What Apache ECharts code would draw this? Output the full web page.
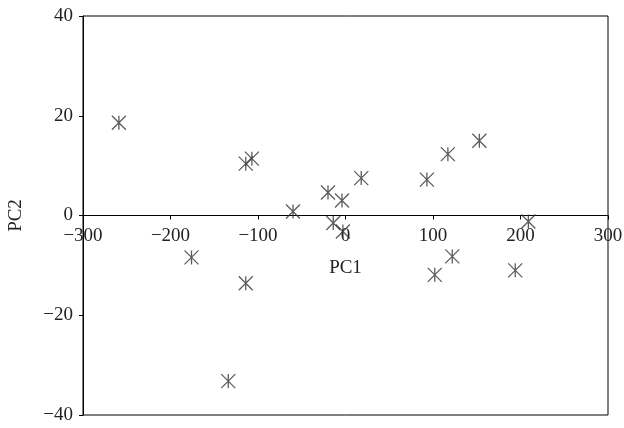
<!DOCTYPE html>
<html><head><meta charset="utf-8">
<script src="https://cdn.jsdelivr.net/npm/echarts@6/dist/echarts.min.js"></script>
<style>html,body{margin:0;padding:0;background:#fff}#c{width:624px;height:428px}</style>
</head><body><div id="c"></div>
<script>
var pc1 = [-259, -114, -107, -60, -176, -114, -134, -20, -4, 18, 93, 117, 153, -14, -3, 209, 122, 102, 194];
var pc2 = [18.6, 10.4, 11.4, 0.8, -8.4, -13.6, -33.2, 4.6, 3.0, 7.5, 7.2, 12.3, 15.0, -1.5, -3.2, -1.2, -8.2, -11.9, -11.0];
var xTicks = [-300, -200, -100, 0, 100, 200, 300];
var yTicks = [-40, -20, 0, 20, 40];

var pts = pc1.map(function (x, i) { return [x, pc2[i]]; });
var fmt = function (v) { return String(v).replace('-', '\u2212'); };
var font = '"Liberation Serif", "DejaVu Serif", serif';
var chart = echarts.init(document.getElementById('c'), null, { renderer: 'canvas' });
chart.setOption({
  animation: false,
  backgroundColor: '#fff',
  grid: { left: 83, right: 16, top: 16, bottom: 13, show: true, borderColor: '#000', borderWidth: 1, backgroundColor: 'transparent', containLabel: false, outerBoundsMode: 'none' },
  xAxis: {
    type: 'value', min: xTicks[0], max: xTicks[xTicks.length - 1], interval: 100,
    position: 'bottom', offset: -199.5,
    name: 'PC1', nameLocation: 'middle', nameGap: 43,
    nameTextStyle: { fontFamily: font, fontSize: 19, color: '#222' },
    axisLine: { onZero: false, lineStyle: { color: '#000', width: 1 } },
    axisTick: { show: true, length: 4, lineStyle: { color: '#000' } },
    axisLabel: { formatter: fmt, fontFamily: font, fontSize: 19, color: '#222', margin: 11 },
    splitLine: { show: false }
  },
  yAxis: {
    type: 'value', min: yTicks[0], max: yTicks[yTicks.length - 1], interval: 20,
    name: 'PC2', nameLocation: 'middle', nameGap: 57, nameRotate: 90,
    nameTextStyle: { fontFamily: font, fontSize: 19, color: '#222' },
    axisLine: { show: true, onZero: false, lineStyle: { color: '#000', width: 1 } },
    axisTick: { show: true, length: 4, lineStyle: { color: '#000' } },
    axisLabel: { formatter: fmt, fontFamily: font, fontSize: 19, color: '#222', margin: 10 },
    splitLine: { show: false }
  },
  series: [{
    type: 'scatter',
    data: pts,
    symbol: 'path://M7,0 L7,14 M0,0 L14,14 M0,14 L14,0',
    symbolSize: 14,
    itemStyle: { color: 'none', borderColor: '#333', borderWidth: 1.3 }
  }]
});
</script></body></html>
